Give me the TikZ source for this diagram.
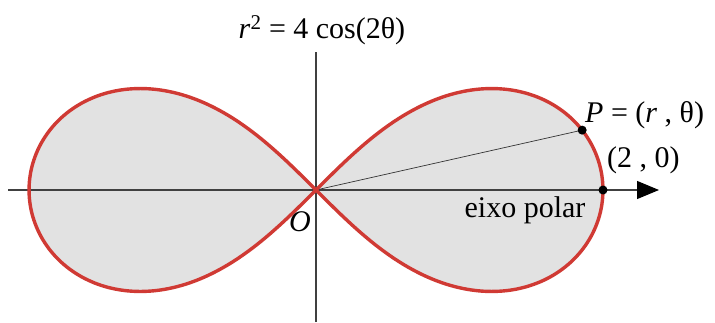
\documentclass[tikz,border=0pt]{standalone}
\usepackage{fontspec}
\setmainfont{Liberation Serif}
\usetikzlibrary{arrows.meta}
\definecolor{curvered}{HTML}{D03A34}
\definecolor{fillgray}{HTML}{E2E2E2}
\begin{document}
\begin{tikzpicture}[x=1pt,y=1pt,
  axis/.style={draw=black!75,line width=1.1pt},
  lbl/.style={font=\fontsize{30}{34}\selectfont,inner sep=0pt},
  dotpt/.style={circle,fill=black,inner sep=0pt,minimum size=9pt}]
\useasboundingbox (0,0) rectangle (715,322);
% lemniscate r^2 = 4 cos(2 theta), a = 2, scale 143.5
\coordinate (O) at (316,132);
\begin{scope}[shift={(O)},x=143.5pt,y=143.5pt]
\fill[fillgray] plot[domain=0:360,samples=240,smooth,variable=\t]
  ({2*cos(\t)/(1+sin(\t)^2)},{2*sin(\t)*cos(\t)/(1+sin(\t)^2)}) -- cycle;
\coordinate (P) at ({2*cos(13)/(1+sin(13)^2)},{2*sin(13)*cos(13)/(1+sin(13)^2)});
\coordinate (A) at (2,0);
\end{scope}
% axes
\coordinate (hl) at (8,132);
\coordinate (hr) at (659,132);
\coordinate (vt) at (316,270);
\coordinate (vb) at (316,0);
\draw[axis] (vb) -- (vt);
\draw[axis,-{Triangle[length=22pt,width=18pt,color=black,fill=black]}] (hl) -- (hr);
\draw[black!80,line width=0.7pt] (O) -- (P);
\begin{scope}[shift={(O)},x=143.5pt,y=143.5pt]
\draw[curvered,line width=3.4pt,line join=round] plot[domain=0:360,samples=240,smooth,variable=\t]
  ({2*cos(\t)/(1+sin(\t)^2)},{2*sin(\t)*cos(\t)/(1+sin(\t)^2)}) -- cycle;
\end{scope}
\node[dotpt] (Pd) at (P) {};
\node[dotpt] (Ad) at (A) {};
% labels
\node[lbl] (title) at (322,292) {\textit{r}\textsuperscript{2} = 4 cos(2θ)};
\node[lbl,anchor=west] (Pl) at (585,207) {\textit{P} = (\textit{r} , θ)};
\node[lbl,anchor=west] (Al) at (607,162) {(2 , 0)};
\node[lbl] (eixo) at (525,112) {eixo polar};
\node[lbl] (Ol) at (300,100) {\textit{O}};
\end{tikzpicture}
\end{document}
